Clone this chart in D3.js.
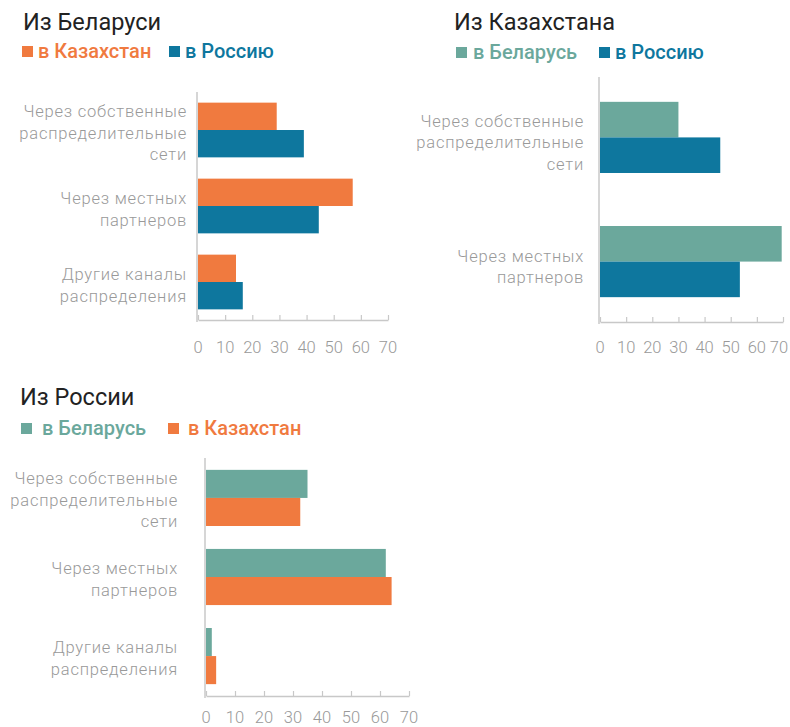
<!DOCTYPE html>
<html>
<head>
<meta charset="utf-8">
<script src="https://cdn.jsdelivr.net/npm/d3@7"></script>
<style>
    body { margin: 0; background: #fff; }
    text { font-family: Roboto, "Noto Sans", sans-serif; }
    .title { font-size: 23.5px; fill: #222; }
    .legend { font-size: 20px; font-weight: 500; }
    .cat { font-size: 16.5px; font-weight: 300; fill: #999; letter-spacing: 0.8px; }
    .tick-label { font-size: 16.5px; font-weight: 300; fill: #999; }
</style>
</head>
<body>
<div id="chart"></div>
<script>
/************************************* Data *************************************/
const categories3 = ["Через собственные\nраспределительные\nсети", "Через местных\nпартнеров", "Другие каналы\nраспределения"];
const categories2 = ["Через собственные\nраспределительные\nсети", "Через местных\nпартнеров"];

// Из Беларуси
const byToKazakhstan = [29, 57, 14];
const byToRussia = [39, 44.5, 16.5];
// Из Казахстана
const kzToBelarus = [30, 69.5];
const kzToRussia = [46, 53.5];
// Из России
const ruToBelarus = [35, 62, 2];
const ruToKazakhstan = [32.5, 64, 3.5];

const xTicks = [0, 10, 20, 30, 40, 50, 60, 70];

// colours
const orange = "#f07a3f";
const blue = "#0e779e";
const green = "#6ba89c";

/************************************* Paint *************************************/
const svg = d3.select("#chart").append("svg")
    .attr("width", 790)
    .attr("height", 727);

const drawPanel = function (p) {
    const g = svg.append("g");

    // title and legend
    g.append("text")
        .attr("class", "title")
        .attr("x", p.titleX)
        .attr("y", p.titleY)
        .text(p.title);

    p.series.forEach(function (s, i) {
        g.append("rect")
            .attr("x", p.legendX[i])
            .attr("y", p.legendY - 11)
            .attr("width", 11)
            .attr("height", 11)
            .attr("fill", s.color);
        g.append("text")
            .attr("class", "legend")
            .attr("x", p.legendTextX[i])
            .attr("y", p.legendY + 1)
            .attr("fill", s.color)
            .text(s.name);
    });

    // scales
    const x = d3.scaleLinear()
        .domain([0, 70])
        .range(p.xRange);
    const y = d3.scaleBand()
        .domain(p.categories)
        .range(p.yRange)
        .paddingInner(p.padIn)
        .paddingOuter(p.padOut);
    const ySub = d3.scaleBand()
        .domain(p.series.map(function (s) { return s.name; }))
        .range([0, y.bandwidth()]);

    // bars
    p.series.forEach(function (s) {
        g.selectAll(null)
            .data(s.values)
            .enter()
            .append("rect")
            .attr("x", x(0))
            .attr("y", function (d, i) { return y(p.categories[i]) + ySub(s.name); })
            .attr("width", function (d) { return x(d) - x(0); })
            .attr("height", ySub.bandwidth())
            .attr("fill", s.color);
    });

    // category labels
    p.categories.forEach(function (c) {
        const lines = c.split("\n");
        const cy = y(c) + y.bandwidth() / 2 + p.labelShift;
        const t = g.append("text")
            .attr("class", "cat")
            .attr("text-anchor", "end");
        lines.forEach(function (line, j) {
            t.append("tspan")
                .attr("x", p.labelX)
                .attr("y", cy + (j - (lines.length - 1) / 2) * 21.5)
                .attr("dy", "0.35em")
                .text(line);
        });
    });

    // axes
    const axisY = p.yRange[1];
    g.append("line")
        .attr("x1", x(0) - 1).attr("x2", x(0) - 1)
        .attr("y1", p.yRange[0]).attr("y2", axisY + 2)
        .attr("stroke", "#c8c8c8")
        .attr("stroke-width", 1.5);

    const xAxis = d3.axisTop(x)
        .tickValues(xTicks)
        .tickSize(5)
        .tickSizeOuter(0)
        .tickFormat("");
    const ax = g.append("g")
        .attr("transform", "translate(0," + axisY + ")")
        .call(xAxis);
    ax.select(".domain").attr("stroke", "#c8c8c8").attr("stroke-width", 1.5);
    ax.selectAll(".tick line").attr("stroke", "#c8c8c8").attr("stroke-width", 1.2);

    g.selectAll(null)
        .data(xTicks)
        .enter()
        .append("text")
        .attr("class", "tick-label")
        .attr("text-anchor", "middle")
        .attr("x", function (d) { return x(d) + (d === 70 ? p.lastTickShift : 0); })
        .attr("y", p.tickLabelY)
        .attr("dy", "0.35em")
        .text(function (d) { return d; });
};

drawPanel({
    title: "Из Беларуси", titleX: 23, titleY: 30,
    legendY: 57, legendX: [22, 169], legendTextX: [38, 185],
    categories: categories3,
    series: [
        {name: "в Казахстан", color: orange, values: byToKazakhstan},
        {name: "в Россию", color: blue, values: byToRussia}
    ],
    xRange: [198, 388], yRange: [92, 320], padIn: 0.28, padOut: 0.14,
    labelX: 187, labelShift: 3, tickLabelY: 347, lastTickShift: 0
});

drawPanel({
    title: "Из Казахстана", titleX: 454, titleY: 30,
    legendY: 58, legendX: [456, 599], legendTextX: [473, 615],
    categories: categories2,
    series: [
        {name: "в Беларусь", color: green, values: kzToBelarus},
        {name: "в Россию", color: blue, values: kzToRussia}
    ],
    xRange: [600, 783], yRange: [77, 322], padIn: 0.427, padOut: 0.2,
    labelX: 584, labelShift: 5, tickLabelY: 347, lastTickShift: -4
});

drawPanel({
    title: "Из России", titleX: 20, titleY: 405,
    legendY: 434, legendX: [21, 168], legendTextX: [42, 188],
    categories: categories3,
    series: [
        {name: "в Беларусь", color: green, values: ruToBelarus},
        {name: "в Казахстан", color: orange, values: ruToKazakhstan}
    ],
    xRange: [206, 409], yRange: [458, 696], padIn: 0.29, padOut: 0.15,
    labelX: 178, labelShift: 2, tickLabelY: 717, lastTickShift: 0
});
</script>
</body>
</html>
